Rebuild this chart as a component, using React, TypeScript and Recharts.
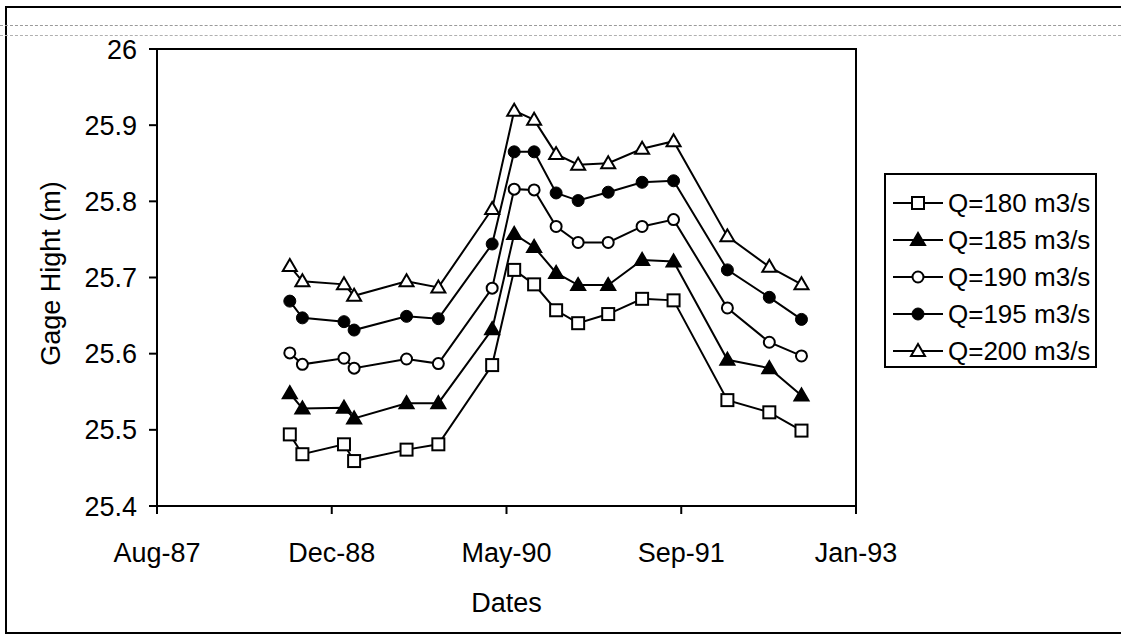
import React from 'react';
import { LineChart, Line, XAxis, YAxis, Legend, ReferenceArea } from 'recharts';

// ---- data ----
const surveyDates = [
  '1988-08-25', '1988-09-30', '1989-01-27', '1989-02-25', '1989-07-25', '1989-10-24',
  '1990-03-27', '1990-05-29', '1990-07-25', '1990-09-26', '1990-11-28', '1991-02-22',
  '1991-05-30', '1991-08-28', '1992-01-29', '1992-05-28', '1992-08-28',
];
const q180 = [25.494, 25.468, 25.481, 25.459, 25.474, 25.481, 25.585, 25.71, 25.691, 25.657, 25.64, 25.652, 25.672, 25.67, 25.539, 25.523, 25.499];
const q185 = [25.548, 25.528, 25.529, 25.515, 25.535, 25.535, 25.632, 25.757, 25.74, 25.706, 25.69, 25.69, 25.723, 25.721, 25.592, 25.581, 25.545];
const q190 = [25.601, 25.586, 25.594, 25.581, 25.593, 25.587, 25.686, 25.816, 25.815, 25.767, 25.746, 25.746, 25.767, 25.776, 25.66, 25.615, 25.597];
const q195 = [25.669, 25.647, 25.642, 25.631, 25.649, 25.646, 25.744, 25.865, 25.865, 25.811, 25.801, 25.812, 25.825, 25.827, 25.71, 25.674, 25.645];
const q200 = [25.715, 25.695, 25.691, 25.676, 25.695, 25.687, 25.79, 25.919, 25.907, 25.862, 25.848, 25.85, 25.869, 25.879, 25.754, 25.714, 25.691];

const yTicks = [25.4, 25.5, 25.6, 25.7, 25.8, 25.9, 26];
// Excel date serials used as the axis (min 32000, major unit 500)
const xTickSerials = [32000, 32500, 33000, 33500, 34000];
const monthNames = ['Jan', 'Feb', 'Mar', 'Apr', 'May', 'Jun', 'Jul', 'Aug', 'Sep', 'Oct', 'Nov', 'Dec'];

const toSerial = (iso: string) => {
  const [y, m, d] = iso.split('-').map(Number);
  return Date.UTC(y, m - 1, d) / 86400000 + 25569;
};
const fmtSerial = (s: number) => {
  const dt = new Date((s - 25569) * 86400000);
  return `${monthNames[dt.getUTCMonth()]}-${String(dt.getUTCFullYear()).slice(2)}`;
};

type Shape = 'square' | 'triFilled' | 'circle' | 'circleFilled' | 'tri';
const series: { key: string; name: string; shape: Shape; values: number[] }[] = [
  { key: 'q180', name: 'Q=180 m3/s', shape: 'square', values: q180 },
  { key: 'q185', name: 'Q=185 m3/s', shape: 'triFilled', values: q185 },
  { key: 'q190', name: 'Q=190 m3/s', shape: 'circle', values: q190 },
  { key: 'q195', name: 'Q=195 m3/s', shape: 'circleFilled', values: q195 },
  { key: 'q200', name: 'Q=200 m3/s', shape: 'tri', values: q200 },
];

const rows = surveyDates.map((d, i) => {
  const r: Record<string, number> = { x: toSerial(d) };
  series.forEach((s) => {
    r[s.key] = s.values[i];
  });
  return r;
});

const FONT = '"Liberation Sans", Arial, Helvetica, sans-serif';

const Marker = ({ shape, cx, cy }: { shape: Shape; cx: number; cy: number }) => {
  if (cx == null || cy == null) return null;
  switch (shape) {
    case 'square':
      return <rect x={cx - 6} y={cy - 6} width={12} height={12} fill="#fff" stroke="#000" strokeWidth={2} />;
    case 'circle':
      return <circle cx={cx} cy={cy} r={5.5} fill="#fff" stroke="#000" strokeWidth={2} />;
    case 'circleFilled':
      return <circle cx={cx} cy={cy} r={6} fill="#000" stroke="#000" strokeWidth={1} />;
    case 'tri':
    case 'triFilled': {
      const pts = `${cx},${cy - 7} ${cx - 7},${cy + 5} ${cx + 7},${cy + 5}`;
      return (
        <polygon
          points={pts}
          fill={shape === 'tri' ? '#fff' : '#000'}
          stroke="#000"
          strokeWidth={2}
          strokeLinejoin="miter"
        />
      );
    }
    default:
      return null;
  }
};

const renderLegend = () => (
  <div
    style={{
      width: 213,
      height: 195,
      border: '2px solid #000',
      boxSizing: 'border-box',
      background: '#fff',
    }}
  >
    <svg width={209} height={191} style={{ display: 'block' }}>
      {series.map((s, i) => {
        const cy = 28 + i * 37;
        return (
          <g key={s.key}>
            <line x1={7} x2={57} y1={cy} y2={cy} stroke="#000" strokeWidth={2} />
            <Marker shape={s.shape} cx={32} cy={cy} />
            <text x={62} y={cy} dy="0.36em" fontSize={26} fontFamily={FONT} fill="#000">
              {s.name}
            </text>
          </g>
        );
      })}
    </svg>
  </div>
);

const YTitle = (props: any) => {
  const vb = props.viewBox || { x: 0, y: 0, width: 0, height: 0 };
  const cx = vb.x + 50;
  const cy = vb.y + vb.height / 2 - 4;
  return (
    <text
      x={cx}
      y={cy}
      transform={`rotate(-90, ${cx}, ${cy})`}
      textAnchor="middle"
      dy="0.36em"
      fontSize={27}
      fontFamily={FONT}
      fill="#000"
    >
      Gage Hight (m)
    </text>
  );
};

const XTitle = (props: any) => {
  const vb = props.viewBox || { x: 0, y: 0, width: 0, height: 0 };
  return (
    <text x={vb.x + vb.width / 2} y={vb.y + 106} textAnchor="middle" fontSize={27} fontFamily={FONT} fill="#000">
      Dates
    </text>
  );
};

export default function App() {
  return (
    <div style={{ position: 'absolute', left: 0, top: 0, width: 1121, height: 641, background: '#fff', overflow: 'hidden' }}>
      {/* outer chart-area frame */}
      <div
        style={{
          position: 'absolute',
          left: 5,
          top: 6,
          width: 1200,
          height: 624,
          borderLeft: '2px solid #000',
          borderTop: '2px solid #000',
          borderBottom: '2px solid #000',
        }}
      />
      {/* faint scan lines near the top */}
      <div style={{ position: 'absolute', left: 0, top: 25, width: 1121, borderTop: '1px dashed #9a9a9a' }} />
      <div style={{ position: 'absolute', left: 0, top: 35, width: 1121, borderTop: '1px dashed #b0b0b0' }} />
      <div style={{ position: 'absolute', left: 0, top: 0 }}>
        <LineChart
          width={1121}
          height={641}
          data={rows}
          margin={{ top: 49, right: 265, bottom: 0, left: 0 }}
          style={{ fontFamily: FONT }}
        >
          <XAxis
            dataKey="x"
            type="number"
            domain={[32000, 34000]}
            ticks={xTickSerials}
            tickFormatter={fmtSerial}
            height={135}
            tickSize={8}
            tickMargin={29}
            axisLine={{ stroke: '#000', strokeWidth: 2 }}
            tickLine={{ stroke: '#000', strokeWidth: 2 }}
            tick={{ fill: '#000', fontSize: 27, fontFamily: FONT }}
            interval={0}
            allowDataOverflow
            label={<XTitle />}
          />
          <YAxis
            type="number"
            domain={[25.4, 26]}
            ticks={yTicks}
            width={157}
            tickSize={8}
            tickMargin={12}
            axisLine={{ stroke: '#000', strokeWidth: 2 }}
            tickLine={{ stroke: '#000', strokeWidth: 2 }}
            tick={{ fill: '#000', fontSize: 27, fontFamily: FONT }}
            interval={0}
            allowDataOverflow
            label={<YTitle />}
          />
          <ReferenceArea x1={32000} x2={34000} y1={25.4} y2={26} fill="none" stroke="#000" strokeWidth={2} />
          {series.map((s) => (
            <Line
              key={s.key}
              dataKey={s.key}
              name={s.name}
              type="linear"
              stroke="#000"
              strokeWidth={2}
              isAnimationActive={false}
              activeDot={false}
              dot={(p: any) => <Marker key={`${s.key}-${p.index}`} shape={s.shape} cx={p.cx} cy={p.cy} />}
            />
          ))}
          <Legend
            layout="vertical"
            align="center"
            verticalAlign="middle"
            content={renderLegend}
            wrapperStyle={{ position: 'absolute', left: 884, top: 173, width: 213, height: 195 }}
          />
        </LineChart>
      </div>
    </div>
  );
}
